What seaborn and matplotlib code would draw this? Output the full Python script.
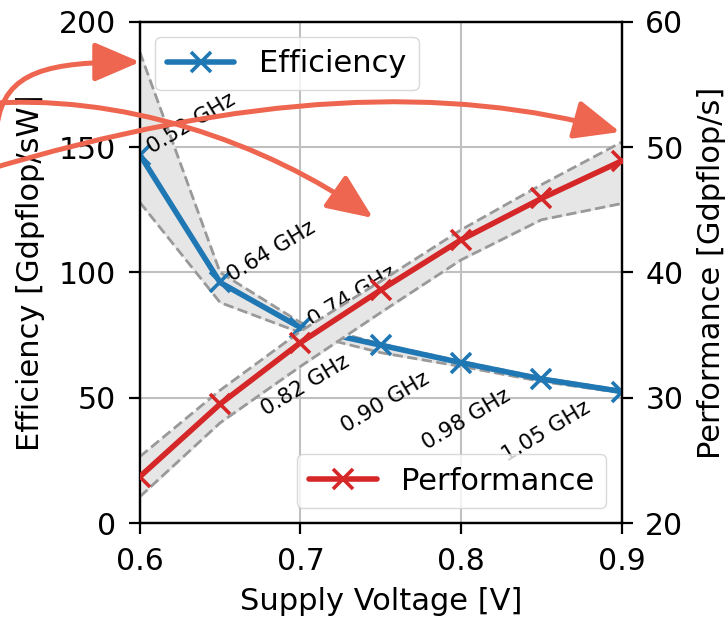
import numpy as np
import pandas as pd
import seaborn as sns
import matplotlib
matplotlib.use("Agg")
import matplotlib.pyplot as plt
from matplotlib.patches import FancyArrowPatch
from matplotlib.path import Path

# ---------------- data ----------------
voltage = [0.60, 0.65, 0.70, 0.75, 0.80, 0.85, 0.90]
freq_labels = ["0.52 GHz", "0.64 GHz", "0.74 GHz", "0.82 GHz",
               "0.90 GHz", "0.98 GHz", "1.05 GHz"]
efficiency = [147, 96, 78, 71, 64, 57.5, 52.5]
eff_upper = [188, 100, 80, 71.5, 64.5, 58, 53]
eff_lower = [128, 88, 76, 68, 62.5, 56.5, 52]
performance = [23.7, 29.5, 34.4, 38.6, 42.6, 45.9, 48.9]
perf_upper = [25.3, 30.6, 35.3, 39.3, 43.4, 47.0, 50.4]
perf_lower = [22.1, 28.0, 32.5, 36.8, 41.0, 44.2, 45.5]

df = pd.DataFrame({"voltage": voltage, "efficiency": efficiency,
                   "performance": performance})

# ---------------- style ----------------
sns.set_theme(style="ticks")
plt.rcParams.update({
    "font.family": ["DejaVu Sans"],
    "font.size": 22,
    "text.color": "black",
    "axes.labelcolor": "black",
    "axes.linewidth": 1.6,
    "xtick.major.width": 1.6,
    "ytick.major.width": 1.6,
    "xtick.major.size": 8,
    "ytick.major.size": 8,
    "xtick.major.pad": 9,
    "ytick.major.pad": 9,
    "xtick.color": "black",
    "ytick.color": "black",
    "xtick.labelcolor": "black",
    "ytick.labelcolor": "black",
    "axes.edgecolor": "black",
    "legend.fancybox": True,
})

BLUE = "#1f77b4"
RED = "#d62728"
ARROW = "#ee6650"

fig = plt.figure(figsize=(7.28, 6.22), dpi=100)
ax1 = fig.add_subplot(111)
fig.subplots_adjust(left=0.192, right=0.854, top=0.965, bottom=0.159)
ax2 = ax1.twinx()

# efficiency
ax1.fill_between(voltage, eff_lower, eff_upper, color="#e6e6e6", zorder=1)
ax1.plot(voltage, eff_upper, ls="--", color="#999999", lw=2, zorder=2)
ax1.plot(voltage, eff_lower, ls="--", color="#999999", lw=2, zorder=2)
sns.lineplot(data=df, x="voltage", y="efficiency", ax=ax1, color=BLUE,
             lw=4.0, marker="x", markersize=14, markeredgewidth=2.6,
             markeredgecolor=BLUE, label="Efficiency", zorder=3)

# performance
ax2.fill_between(voltage, perf_lower, perf_upper, color="#e6e6e6", zorder=1)
ax2.plot(voltage, perf_upper, ls="--", color="#999999", lw=2, zorder=2)
ax2.plot(voltage, perf_lower, ls="--", color="#999999", lw=2, zorder=2)
sns.lineplot(data=df, x="voltage", y="performance", ax=ax2, color=RED,
             lw=4.0, marker="x", markersize=14, markeredgewidth=2.6,
             markeredgecolor=RED, label="Performance", zorder=3)

# frequency annotations
for i, (v, e, lab) in enumerate(zip(voltage, efficiency, freq_labels)):
    if i < 3:
        ax1.annotate(lab, xy=(v, e), xytext=(4, -3), textcoords="offset pixels",
                     ha="left", va="bottom", rotation=31, fontsize=15.5,
                     color="black", zorder=5)
    else:
        ax1.annotate(lab, xy=(v, e), xytext=(-28, -6), textcoords="offset pixels",
                     ha="right", va="top", rotation=31, fontsize=15.5,
                     color="black", zorder=5)

ax1.set_xlim(0.6, 0.9)
ax1.set_ylim(0, 200)
ax2.set_ylim(20, 60)
ax1.set_xticks([0.6, 0.7, 0.8, 0.9])
ax1.set_yticks([0, 50, 100, 150, 200])
ax2.set_yticks([20, 30, 40, 50, 60])
ax1.set_xlabel("Supply Voltage [V]", fontsize=22, labelpad=8)
ax1.set_ylabel("Efficiency [Gdpflop/sW]", fontsize=22, labelpad=10)
ax2.set_ylabel("Performance [Gdpflop/s]", fontsize=22, labelpad=10)
ax1.tick_params(labelsize=21.5)
ax2.tick_params(labelsize=21.5)
ax1.grid(True, color="#c0c0c0", lw=1.5)
ax2.grid(False)

ax1.legend(loc="upper left", fontsize=22, handlelength=2.2)
ax2.legend(loc="lower right", fontsize=22, handlelength=2.2)
for lg in (ax1.get_legend(), ax2.get_legend()):
    lg.get_frame().set_alpha(0.8)
    lg.get_frame().set_edgecolor("#d0d0d0")
    for t in lg.get_texts():
        t.set_color("black")

# curved arrows (figure pixel coordinates, top-left origin)
W, H = 728.0, 622.0
def fp(pts):
    return [(x / W, 1 - y / H) for x, y in pts]

arrow_paths = [
    [(-3, 126), (4, 70), (50, 62), (140, 62)],
    [(-20, 172), (250, 90), (450, 85), (620, 132)],
    [(-20, 104), (120, 92), (265, 142), (373, 218)],
]
codes = [Path.MOVETO, Path.CURVE4, Path.CURVE4, Path.CURVE4]
for pts in arrow_paths:
    p = FancyArrowPatch(path=Path(fp(pts), codes),
                        arrowstyle="-|>,head_length=2.8,head_width=1.2",
                        mutation_scale=10, color=ARROW, lw=3.6,
                        transform=fig.transFigure, zorder=10)
    fig.add_artist(p)

fig.savefig("out.png", dpi=100)
